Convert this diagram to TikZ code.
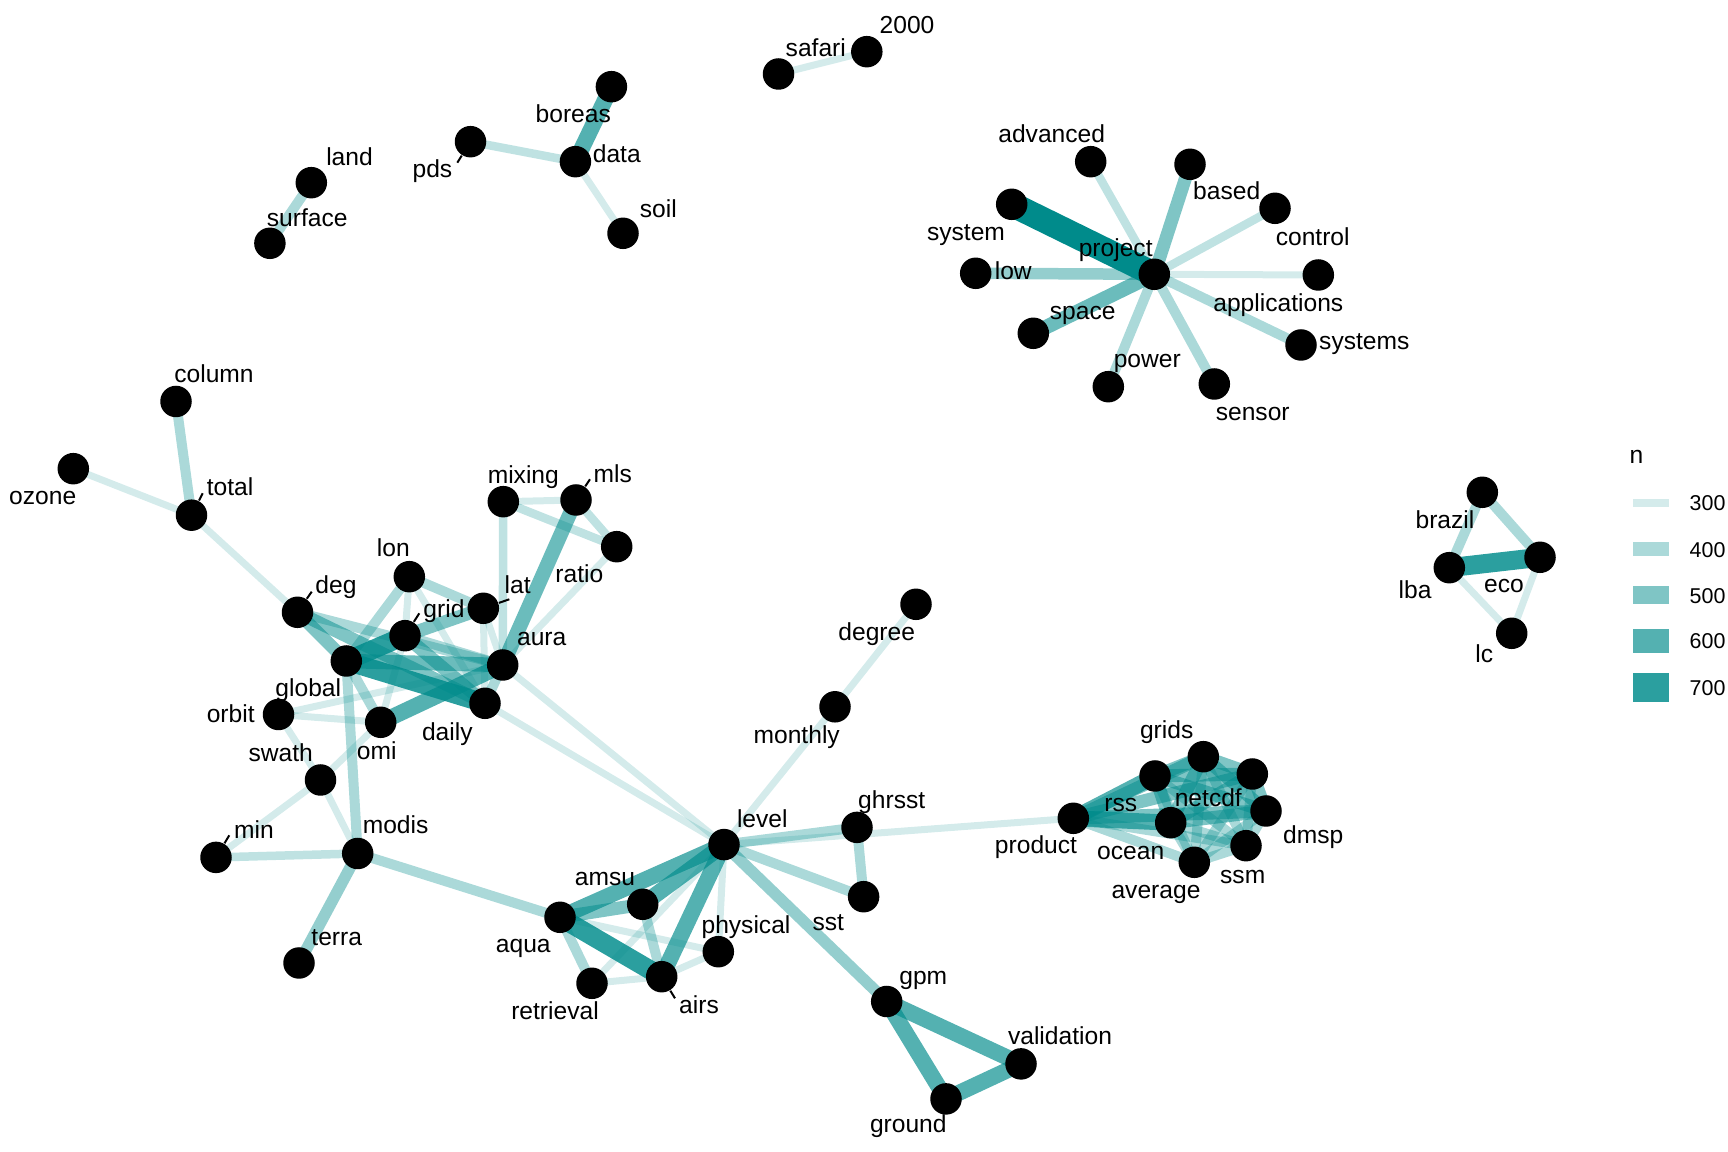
\documentclass[tikz,border=0pt]{standalone}
\usepackage{fontspec}
\setmainfont{Liberation Sans}
\pgfdeclarelayer{edges}
\pgfsetlayers{edges,main}
\definecolor{ec}{HTML}{008B8B}
\newcommand{\mkv}[4]{\node[vx] (#1) at (#2) {}; \node[lbl] (#1-l) at (#4) {#3};}
\newcommand{\mke}[3]{\draw[#1] (#2.center) -- (#3.center);}
\begin{document}
\begin{tikzpicture}[x=0.1mm,y=-0.1mm,
 vx/.style={circle,fill=black,inner sep=0pt,minimum size=3.15mm},
 lbl/.style={font=\fontsize{7}{8}\selectfont,inner sep=0pt,text height=0.72em,text depth=0pt,anchor=center,yshift=0.55mm},
 e3/.style={draw=ec,draw opacity=0.17,line width=0.7mm},
 e35/.style={draw=ec,draw opacity=0.25,line width=0.85mm},
 e4/.style={draw=ec,draw opacity=0.33,line width=1.0mm},
 e45/.style={draw=ec,draw opacity=0.42,line width=1.15mm},
 e5/.style={draw=ec,draw opacity=0.5,line width=1.3mm},
 e55/.style={draw=ec,draw opacity=0.58,line width=1.45mm},
 e6/.style={draw=ec,draw opacity=0.67,line width=1.6mm},
 e7/.style={draw=ec,draw opacity=0.83,line width=1.9mm},
 e8/.style={draw=ec,draw opacity=1,line width=2.5mm},
 leader/.style={draw=black,line width=0.2mm},
 key/.style={fill=ec,draw=none},
 legtxt/.style={font=\fontsize{6.1}{7}\selectfont,inner sep=0pt,anchor=west,text height=0.72em,text depth=0pt,yshift=0.45mm}]
\path[use as bounding box] (0,0) rectangle (1728,1152);
% top
\mkv{n2000}{866.8,51.7}{2000}{907,26}
\mkv{safari}{778.5,74}{safari}{815.8,49.3}
\mkv{boreas}{611.4,86.7}{boreas}{573.3,115}
\mkv{data}{575.4,161.7}{data}{616.8,155}
\mkv{pds}{470.5,141.7}{pds}{432.4,170.7}
\mkv{soil}{623,233.3}{soil}{658.3,210}
\mkv{land}{311.3,182.7}{land}{349.5,158.3}
\mkv{surface}{269.9,243.3}{surface}{307.2,219.3}
% project
\mkv{advanced}{1090.7,161.7}{advanced}{1051.7,135}
\mkv{based}{1190,164.3}{based}{1226.7,192.7}
\mkv{control}{1275,208.3}{control}{1312.7,238.3}
\mkv{system}{1011.7,204.3}{system}{966,233.5}
\mkv{project}{1154.3,274.3}{project}{1115.7,249.3}
\mkv{low}{975.7,273.3}{low}{1013.3,272.7}
\mkv{applications}{1318.3,275}{applications}{1278.3,304.3}
\mkv{space}{1033.3,333.3}{space}{1082.7,312.3}
\mkv{systems}{1301,345}{systems}{1364.3,342.7}
\mkv{power}{1108.3,386.7}{power}{1147.3,360.7}
\mkv{sensor}{1214.3,384}{sensor}{1252.7,413.3}
% left
\mkv{column}{176,401.5}{column}{214,375}
\mkv{ozone}{73.3,468.7}{ozone}{42.7,497.6}
\mkv{total}{191.5,515.2}{total}{230,488}
\mkv{mixing}{503.3,501.7}{mixing}{523.3,476}
\mkv{mls}{576,500}{mls}{612.7,475}
\mkv{ratio}{616.7,546.7}{ratio}{579.3,575}
\mkv{lon}{409.3,576.7}{lon}{393.3,549.3}
\mkv{deg}{297.5,612.3}{deg}{336,586.7}
\mkv{lat}{483.3,608.3}{lat}{517.7,586.7}
\mkv{grid}{405,635.7}{grid}{444,610}
\mkv{aura}{502.7,665}{aura}{541.7,638.3}
\mkv{global}{346.3,661}{global}{308.3,689.3}
\mkv{orbit}{278.5,714.5}{orbit}{230.7,715}
\mkv{omi}{380.7,722.3}{omi}{376.7,752.7}
\mkv{daily}{485,703.3}{daily}{447.3,733.3}
\mkv{swath}{320.5,780}{swath}{280.7,754}
\mkv{min}{216,857.4}{min}{254,831.3}
\mkv{modis}{357.7,853.5}{modis}{395.6,826.5}
\mkv{terra}{299,963}{terra}{336.7,938}
% middle
\mkv{degree}{916,604.3}{degree}{876.7,632.9}
\mkv{monthly}{835,706.8}{monthly}{796.7,736}
\mkv{level}{724,844.6}{level}{762.3,820}
\mkv{ghrsst}{857,827.4}{ghrsst}{891.7,801.7}
\mkv{sst}{863.6,896.7}{sst}{828.3,923.3}
\mkv{amsu}{642.7,904.3}{amsu}{605,878.3}
\mkv{aqua}{560,917.3}{aqua}{523.3,945}
\mkv{physical}{718.3,951.7}{physical}{746,926}
\mkv{retrieval}{592,983.3}{retrieval}{555,1012.7}
\mkv{airs}{661.7,976.7}{airs}{699,1006}
\mkv{gpm}{886.7,1001.5}{gpm}{923.3,977.1}
\mkv{validation}{1021,1063.9}{validation}{1060,1037}
\mkv{ground}{946,1098.9}{ground}{908.3,1125.7}
% right
\mkv{brazil}{1482.3,492.3}{brazil}{1445,521}
\mkv{eco}{1540,557.3}{eco}{1504,585}
\mkv{lba}{1449.3,567.7}{lba}{1415,591.7}
\mkv{lc}{1511.7,633.3}{lc}{1484.3,655}
\mkv{product}{1073.3,818.3}{product}{1036,846.5}
\mkv{rss}{1155,776}{rss}{1120.7,804}
\mkv{grids}{1203.3,756.7}{grids}{1166.7,731.7}
\mkv{netcdf}{1252.3,774}{netcdf}{1208.3,799.3}
\mkv{dmsp}{1266,811}{dmsp}{1313.3,836}
\mkv{ocean}{1170.7,822.7}{ocean}{1130.7,852.7}
\mkv{ssm}{1246,845.7}{ssm}{1242.7,876.7}
\mkv{average}{1194.3,862.3}{average}{1156,891.7}
% leaders
\coordinate (total-t) at (202.7,493.3);
\coordinate (deg-t) at (311.7,591.7);
\coordinate (lat-t) at (509.3,599.3);
\coordinate (grid-t) at (419.3,613.3);
\coordinate (mls-t) at (590,479.3);
\coordinate (min-t) at (229.3,835.3);
\coordinate (pds-t) at (457.3,162.7);
\coordinate (airs-t) at (675,998.3);
\foreach \v in {total,deg,lat,grid,mls,min,pds,airs}{\draw[leader] (\v) -- (\v-t);}
% legend
\node[lbl,anchor=west] (legn) at (1629,456) {n};
\foreach \i/\y/\h/\o in {300/502.7/7.7/0.17,400/549/13.7/0.33,500/595/18.7/0.5,600/640.7/23.7/0.67,700/687.3/29/0.83}{
  \node[key,fill opacity=\o,minimum width=3.66mm,minimum height=\h*0.1mm,inner sep=0pt] (k\i) at (1651,\y) {};
  \node[legtxt] (t\i) at (1689,\y) {\i};
}
\begin{pgfonlayer}{edges}
\mke{e3}{safari}{n2000}
\mke{e6}{boreas}{data}
\mke{e35}{pds}{data}
\mke{e3}{data}{soil}
\mke{e4}{land}{surface}
\mke{e35}{project}{advanced}
\mke{e5}{project}{based}
\mke{e35}{project}{control}
\mke{e8}{project}{system}
\mke{e45}{project}{low}
\mke{e3}{project}{applications}
\mke{e55}{project}{space}
\mke{e4}{project}{systems}
\mke{e4}{project}{power}
\mke{e4}{project}{sensor}
\mke{e4}{column}{total}
\mke{e3}{ozone}{total}
\mke{e3}{total}{deg}
\mke{e5}{deg}{global}
\mke{e5}{deg}{daily}
\mke{e4}{deg}{aura}
\mke{e4}{lon}{lat}
\mke{e3}{lon}{grid}
\mke{e4}{lon}{global}
\mke{e3}{lon}{daily}
\mke{e5}{lat}{grid}
\mke{e3}{lat}{aura}
\mke{e3}{lat}{daily}
\mke{e7}{grid}{global}
\mke{e5}{grid}{daily}
\mke{e4}{grid}{aura}
\mke{e3}{grid}{omi}
\mke{e55}{global}{aura}
\mke{e7}{global}{daily}
\mke{e4}{global}{omi}
\mke{e3}{orbit}{aura}
\mke{e3}{orbit}{omi}
\mke{e6}{omi}{aura}
\mke{e4}{aura}{daily}
\mke{e3}{mixing}{mls}
\mke{e35}{mixing}{ratio}
\mke{e35}{mls}{ratio}
\mke{e35}{mixing}{aura}
\mke{e55}{mls}{aura}
\mke{e3}{ratio}{aura}
\mke{e3}{aura}{level}
\mke{e3}{daily}{level}
\mke{e4}{global}{modis}
\mke{e3}{orbit}{swath}
\mke{e3}{swath}{omi}
\mke{e3}{swath}{min}
\mke{e3}{swath}{modis}
\mke{e35}{min}{modis}
\mke{e45}{modis}{terra}
\mke{e4}{modis}{aqua}
\mke{e6}{level}{amsu}
\mke{e6}{level}{aqua}
\mke{e6}{level}{airs}
\mke{e5}{aqua}{amsu}
\mke{e7}{aqua}{airs}
\mke{e4}{amsu}{airs}
\mke{e4}{aqua}{retrieval}
\mke{e3}{aqua}{physical}
\mke{e3}{airs}{physical}
\mke{e3}{airs}{retrieval}
\mke{e3}{level}{retrieval}
\mke{e3}{level}{physical}
\mke{e4}{level}{ghrsst}
\mke{e4}{level}{sst}
\mke{e4}{ghrsst}{sst}
\mke{e45}{level}{gpm}
\mke{e3}{level}{product}
\mke{e3}{level}{monthly}
\mke{e3}{monthly}{degree}
\mke{e6}{gpm}{validation}
\mke{e6}{gpm}{ground}
\mke{e6}{ground}{validation}
\mke{e4}{brazil}{lba}
\mke{e4}{brazil}{eco}
\mke{e7}{lba}{eco}
\mke{e3}{lba}{lc}
\mke{e3}{eco}{lc}
\mke{e6}{product}{rss}
\mke{e5}{product}{grids}
\mke{e5}{product}{netcdf}
\mke{e5}{product}{dmsp}
\mke{e6}{product}{ocean}
\mke{e4}{product}{ssm}
\mke{e4}{product}{average}
\mke{e5}{rss}{grids}
\mke{e5}{rss}{netcdf}
\mke{e5}{rss}{dmsp}
\mke{e5}{rss}{ocean}
\mke{e4}{rss}{ssm}
\mke{e4}{rss}{average}
\mke{e5}{grids}{netcdf}
\mke{e5}{grids}{dmsp}
\mke{e5}{grids}{ocean}
\mke{e4}{grids}{ssm}
\mke{e4}{grids}{average}
\mke{e5}{netcdf}{dmsp}
\mke{e5}{netcdf}{ocean}
\mke{e4}{netcdf}{ssm}
\mke{e4}{netcdf}{average}
\mke{e5}{dmsp}{ocean}
\mke{e4}{dmsp}{ssm}
\mke{e4}{dmsp}{average}
\mke{e4}{ocean}{ssm}
\mke{e4}{ocean}{average}
\mke{e4}{ssm}{average}
\end{pgfonlayer}
\end{tikzpicture}
\end{document}
